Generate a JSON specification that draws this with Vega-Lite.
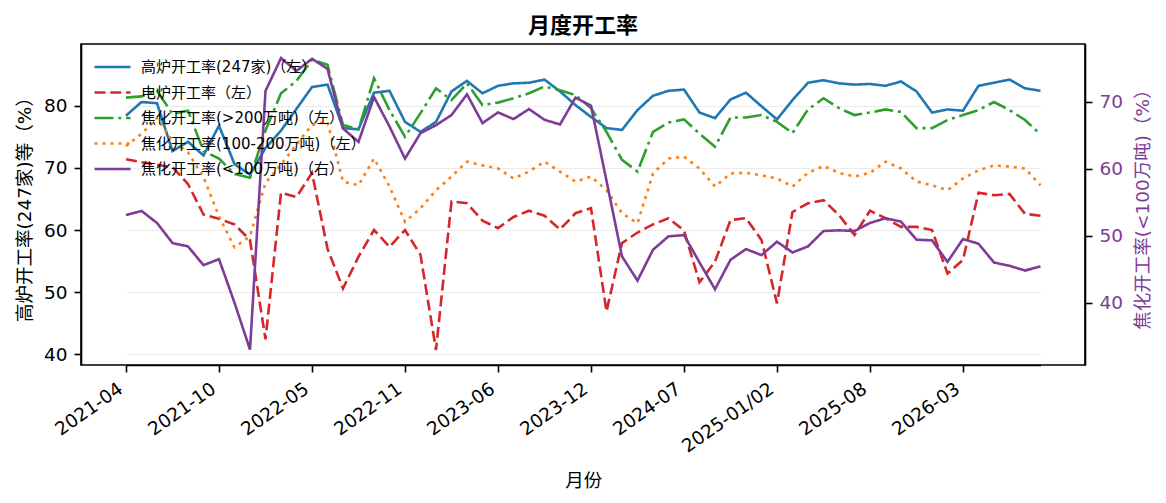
{
  "$schema": "https://vega.github.io/schema/vega-lite/v6.json",
  "autosize": "none",
  "padding": {"left": 81, "top": 44, "right": 81, "bottom": 138},
  "width": 1004,
  "height": 321,
  "background": "white",
  "title": {
    "text": "月度开工率",
    "fontSize": 22,
    "fontWeight": "bold",
    "color": "black",
    "anchor": "middle",
    "baseline": "middle",
    "offset": -4
  },
  "config": {
    "font": "DejaVu Sans, Noto Sans CJK SC",
    "view": {"stroke": "black", "strokeWidth": 1.6},
    "axis": {
      "labelFont": "DejaVu Sans, Noto Sans CJK SC",
      "titleFont": "DejaVu Sans, Noto Sans CJK SC",
      "labelFontSize": 18.5,
      "labelColor": "black",
      "titleFontSize": 18.5,
      "titleFontWeight": "normal",
      "titleColor": "black",
      "domainColor": "black",
      "domainWidth": 1.6,
      "tickColor": "black",
      "tickWidth": 1.6,
      "tickSize": 7,
      "labelPadding": 7
    },
    "legend": {
      "labelFont": "DejaVu Sans, Noto Sans CJK SC"
    },
    "title": {
      "font": "Noto Sans CJK SC"
    }
  },
  "data": {
    "values": [
      {"m": "2021-04", "bf": 78.4, "eaf": 71.4, "c1": 81.3, "c2": 73.5, "c3": 53.1},
      {"m": "2021-05", "bf": 80.6, "eaf": 70.9, "c1": 81.5, "c2": 75.5, "c3": 53.7},
      {"m": "2021-06", "bf": 80.4, "eaf": 70.5, "c1": 82.4, "c2": 78.0, "c3": 51.9},
      {"m": "2021-07", "bf": 72.7, "eaf": 70.1, "c1": 78.7, "c2": 74.4, "c3": 48.9},
      {"m": "2021-08", "bf": 74.2, "eaf": 67.4, "c1": 79.2, "c2": 72.5, "c3": 48.4},
      {"m": "2021-09", "bf": 72.0, "eaf": 62.5, "c1": 72.7, "c2": 68.5, "c3": 45.6},
      {"m": "2021-10", "bf": 76.8, "eaf": 61.8, "c1": 71.5, "c2": 62.2, "c3": 46.5},
      {"m": "2021-11", "bf": 70.6, "eaf": 60.9, "c1": 69.0, "c2": 57.2, "c3": 40.0},
      {"m": "2021-12", "bf": 68.9, "eaf": 58.4, "c1": 68.4, "c2": 59.0, "c3": 33.0},
      {"m": "2022-01/02", "bf": 73.2, "eaf": 42.4, "c1": 76.0, "c2": 67.6, "c3": 71.6},
      {"m": "2022-03", "bf": 76.0, "eaf": 66.0, "c1": 82.0, "c2": 70.5, "c3": 76.5},
      {"m": "2022-04", "bf": 79.5, "eaf": 65.3, "c1": 84.0, "c2": 73.8, "c3": 74.6},
      {"m": "2022-05", "bf": 83.0, "eaf": 69.2, "c1": 87.4, "c2": 76.9, "c3": 76.4},
      {"m": "2022-06", "bf": 83.4, "eaf": 57.0, "c1": 86.6, "c2": 77.4, "c3": 74.9},
      {"m": "2022-07", "bf": 76.4, "eaf": 50.6, "c1": 76.9, "c2": 67.8, "c3": 66.0},
      {"m": "2022-08", "bf": 76.2, "eaf": 55.7, "c1": 76.2, "c2": 67.2, "c3": 64.0},
      {"m": "2022-09", "bf": 82.1, "eaf": 60.0, "c1": 84.4, "c2": 71.5, "c3": 70.7},
      {"m": "2022-10", "bf": 82.4, "eaf": 57.3, "c1": 79.3, "c2": 67.0, "c3": 66.3},
      {"m": "2022-11", "bf": 77.4, "eaf": 60.0, "c1": 75.0, "c2": 61.3, "c3": 61.5},
      {"m": "2022-12", "bf": 75.8, "eaf": 56.0, "c1": 78.8, "c2": 63.5, "c3": 65.3},
      {"m": "2023-01/02", "bf": 77.4, "eaf": 40.7, "c1": 82.8, "c2": 66.4, "c3": 66.5},
      {"m": "2023-03", "bf": 82.3, "eaf": 64.6, "c1": 80.9, "c2": 68.6, "c3": 68.0},
      {"m": "2023-04", "bf": 84.0, "eaf": 64.3, "c1": 83.6, "c2": 71.0, "c3": 71.1},
      {"m": "2023-05", "bf": 82.0, "eaf": 61.5, "c1": 80.1, "c2": 70.4, "c3": 66.8},
      {"m": "2023-06", "bf": 83.2, "eaf": 60.3, "c1": 80.5, "c2": 69.9, "c3": 68.4},
      {"m": "2023-07", "bf": 83.6, "eaf": 62.1, "c1": 81.2, "c2": 68.3, "c3": 67.4},
      {"m": "2023-08", "bf": 83.7, "eaf": 63.1, "c1": 82.0, "c2": 69.4, "c3": 68.9},
      {"m": "2023-09", "bf": 84.2, "eaf": 62.3, "c1": 83.1, "c2": 71.0, "c3": 67.3},
      {"m": "2023-10", "bf": 82.3, "eaf": 60.1, "c1": 82.5, "c2": 69.4, "c3": 66.6},
      {"m": "2023-11", "bf": 80.1, "eaf": 62.7, "c1": 81.7, "c2": 67.8, "c3": 70.6},
      {"m": "2023-12", "bf": 78.2, "eaf": 63.5, "c1": 79.6, "c2": 68.6, "c3": 69.4},
      {"m": "2024-01/02", "bf": 76.4, "eaf": 46.9, "c1": 75.8, "c2": 66.4, "c3": 58.2},
      {"m": "2024-03", "bf": 76.1, "eaf": 57.9, "c1": 71.3, "c2": 62.7, "c3": 46.9},
      {"m": "2024-04", "bf": 79.3, "eaf": 59.6, "c1": 69.4, "c2": 61.1, "c3": 43.3},
      {"m": "2024-05", "bf": 81.6, "eaf": 60.9, "c1": 75.8, "c2": 69.1, "c3": 47.9},
      {"m": "2024-06", "bf": 82.4, "eaf": 61.9, "c1": 77.3, "c2": 71.5, "c3": 49.9},
      {"m": "2024-07", "bf": 82.6, "eaf": 59.9, "c1": 77.8, "c2": 71.8, "c3": 50.1},
      {"m": "2024-08", "bf": 78.9, "eaf": 51.6, "c1": 75.5, "c2": 69.9, "c3": 46.0},
      {"m": "2024-09", "bf": 78.0, "eaf": 54.9, "c1": 73.4, "c2": 67.0, "c3": 42.0},
      {"m": "2024-10", "bf": 81.0, "eaf": 61.6, "c1": 78.1, "c2": 69.1, "c3": 46.4},
      {"m": "2024-11", "bf": 82.1, "eaf": 61.9, "c1": 78.1, "c2": 69.2, "c3": 48.0},
      {"m": "2024-12", "bf": 79.9, "eaf": 58.4, "c1": 78.5, "c2": 68.8, "c3": 47.1},
      {"m": "2025-01/02", "bf": 77.8, "eaf": 48.2, "c1": 77.4, "c2": 68.3, "c3": 49.1},
      {"m": "2025-03", "bf": 80.9, "eaf": 62.9, "c1": 75.6, "c2": 67.0, "c3": 47.5},
      {"m": "2025-04", "bf": 83.7, "eaf": 64.3, "c1": 79.4, "c2": 69.2, "c3": 48.4},
      {"m": "2025-05", "bf": 84.1, "eaf": 64.8, "c1": 81.2, "c2": 70.3, "c3": 50.7},
      {"m": "2025-06", "bf": 83.6, "eaf": 62.4, "c1": 79.6, "c2": 69.2, "c3": 50.8},
      {"m": "2025-07", "bf": 83.4, "eaf": 59.2, "c1": 78.5, "c2": 68.6, "c3": 50.7},
      {"m": "2025-08", "bf": 83.5, "eaf": 63.1, "c1": 78.9, "c2": 69.2, "c3": 51.9},
      {"m": "2025-09", "bf": 83.2, "eaf": 61.9, "c1": 79.4, "c2": 71.0, "c3": 52.6},
      {"m": "2025-10", "bf": 83.9, "eaf": 60.5, "c1": 79.0, "c2": 69.9, "c3": 52.1},
      {"m": "2025-11", "bf": 82.3, "eaf": 60.5, "c1": 76.4, "c2": 67.8, "c3": 49.4},
      {"m": "2025-12", "bf": 78.9, "eaf": 60.0, "c1": 76.4, "c2": 67.2, "c3": 49.3},
      {"m": "2026-01/02", "bf": 79.4, "eaf": 53.0, "c1": 77.7, "c2": 66.4, "c3": 46.1},
      {"m": "2026-03", "bf": 79.2, "eaf": 55.2, "c1": 78.5, "c2": 68.3, "c3": 49.5},
      {"m": "2026-04", "bf": 83.2, "eaf": 66.0, "c1": 79.3, "c2": 69.6, "c3": 48.8},
      {"m": "2026-05", "bf": 83.7, "eaf": 65.6, "c1": 80.6, "c2": 70.4, "c3": 46.0},
      {"m": "2026-06", "bf": 84.2, "eaf": 65.8, "c1": 79.3, "c2": 70.2, "c3": 45.5},
      {"m": "2026-07", "bf": 82.8, "eaf": 62.6, "c1": 77.7, "c2": 69.9, "c3": 44.8},
      {"m": "2026-08", "bf": 82.4, "eaf": 62.3, "c1": 75.4, "c2": 67.2, "c3": 45.4}
    ]
  },
  "transform": [
    {"fold": ["bf", "eaf", "c1", "c2", "c3"], "as": ["s", "v"]}
  ],
  "encoding": {
    "x": {
      "field": "m",
      "type": "ordinal",
      "scale": {"type": "point", "padding": 0, "range": [45, 959.5]},
      "axis": {
        "title": "月份",
        "values": ["2021-04", "2021-10", "2022-05", "2022-11", "2023-06", "2023-12", "2024-07", "2025-01/02", "2025-08", "2026-03"],
        "labelAngle": -35,
        "labelAlign": "right",
        "labelBaseline": "top",
        "labelPadding": 7,
        "labelOffset": -11,
        "labelOverlap": false,
        "grid": false,
        "titleY": 115,
        "titleBaseline": "middle"
      }
    },
    "color": {
      "field": "s",
      "type": "nominal",
      "scale": {
        "domain": ["bf", "eaf", "c1", "c2", "c3"],
        "range": ["#1f77b4", "#d62728", "#2ca02c", "#ff7f0e", "#7d3c98"]
      },
      "legend": {
        "title": null,
        "orient": "none",
        "legendX": 24,
        "legendY": 15.5,
        "padding": 0,
        "labelFontSize": 15,
        "labelColor": "black",
        "labelLimit": 400,
        "symbolType": "M-3.6,0H3.6",
        "symbolSize": 100,
        "symbolStrokeWidth": 2.6,
        "symbolFillColor": "transparent",
        "rowPadding": 9.5,
        "labelOffset": 21,
        "labelExpr": "{'bf': '高炉开工率(247家)（左）', 'eaf': '电炉开工率（左）', 'c1': '焦化开工率(>200万吨)（左）', 'c2': '焦化开工率(100-200万吨)（左）', 'c3': '焦化开工率(<100万吨)（右）'}[datum.value]"
      }
    },
    "strokeDash": {
      "field": "s",
      "type": "nominal",
      "scale": {
        "domain": ["bf", "eaf", "c1", "c2", "c3"],
        "range": [[1, 0], [11, 4.8], [19, 4.8, 3, 4.8], [3, 5], [1, 0]]
      },
      "legend": {
        "title": null,
        "orient": "none",
        "legendX": 24,
        "legendY": 15.5,
        "padding": 0,
        "labelFontSize": 15,
        "labelColor": "black",
        "labelLimit": 400,
        "symbolType": "M-3.6,0H3.6",
        "symbolSize": 100,
        "symbolStrokeWidth": 2.6,
        "symbolFillColor": "transparent",
        "rowPadding": 9.5,
        "labelOffset": 21,
        "labelExpr": "{'bf': '高炉开工率(247家)（左）', 'eaf': '电炉开工率（左）', 'c1': '焦化开工率(>200万吨)（左）', 'c2': '焦化开工率(100-200万吨)（左）', 'c3': '焦化开工率(<100万吨)（右）'}[datum.value]"
      }
    }
  },
  "layer": [
    {
      "transform": [{"filter": "datum.s !== 'c3'"}],
      "mark": {"type": "line", "strokeWidth": 2.6, "clip": true},
      "encoding": {
        "y": {
          "field": "v",
          "type": "quantitative",
          "scale": {"domain": [38.28, 89.93], "zero": false, "nice": false},
          "axis": {
            "title": "高炉开工率(247家)等（%）",
            "values": [40, 50, 60, 70, 80],
            "grid": true,
            "gridColor": "#ebebeb",
            "gridWidth": 1.2,
            "titleX": -57,
            "titleY": 160.5,
            "titleAngle": 270,
            "titleBaseline": "middle",
            "titleAlign": "center"
          }
        }
      }
    },
    {
      "transform": [{"filter": "datum.s === 'c3'"}],
      "mark": {"type": "line", "strokeWidth": 2.6, "clip": true},
      "encoding": {
        "y": {
          "field": "v",
          "type": "quantitative",
          "scale": {"domain": [30.7, 78.61], "zero": false, "nice": false},
          "axis": {
            "orient": "right",
            "title": "焦化开工率(<100万吨)（%）",
            "values": [40, 50, 60, 70],
            "grid": false,
            "labelColor": "#7d3c98",
            "titleColor": "#7d3c98",
            "titleX": 57,
            "titleY": 160.5,
            "titleAngle": 270,
            "titleBaseline": "middle",
            "titleAlign": "center"
          }
        }
      }
    }
  ],
  "resolve": {"scale": {"y": "independent"}, "axis": {"y": "independent"}}
}
